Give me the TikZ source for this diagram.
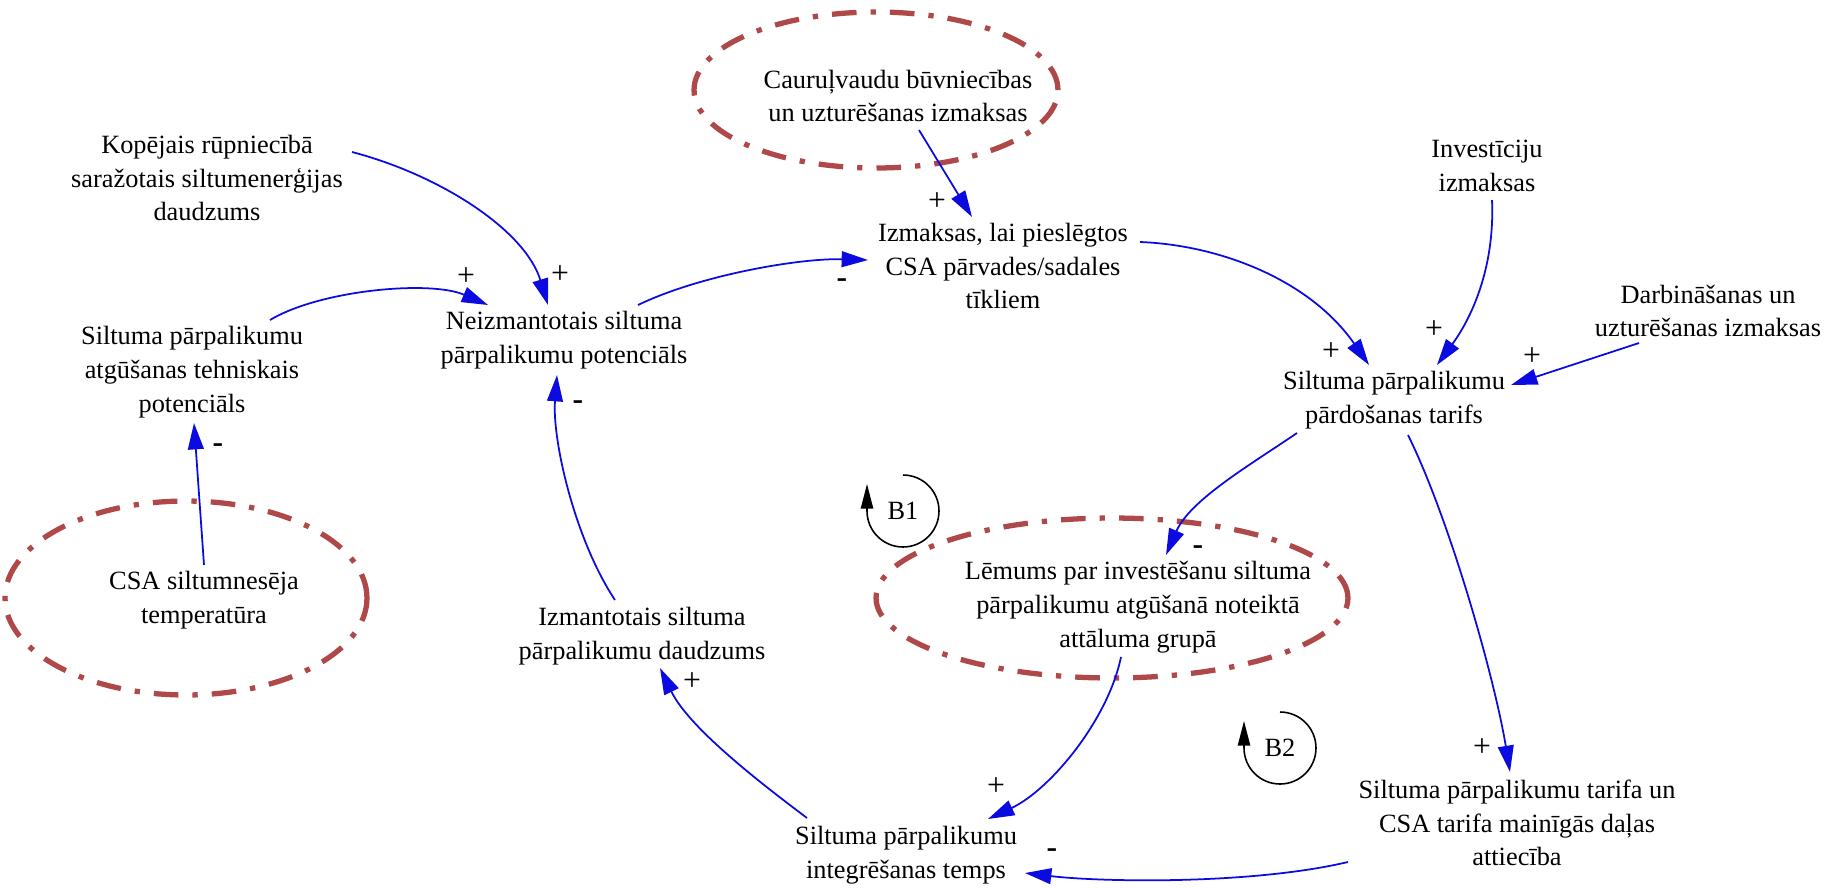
\documentclass[tikz,border=0pt]{standalone}
\usepackage{fontspec}
\setmainfont{Liberation Serif}
\usetikzlibrary{arrows.meta,calc}
\definecolor{ellred}{RGB}{175,72,72}
\definecolor{arrblue}{RGB}{10,10,225}
\begin{document}
\begin{tikzpicture}[x=0.02cm,y=-0.02cm,
  lbl/.style={font=\fontsize{15}{19.2}\selectfont, align=center, inner sep=0pt},
  sgn/.style={font=\fontsize{18}{22}\selectfont, inner sep=0pt},
  msgn/.style={font=\fontsize{18}{22}\selectfont\bfseries, inner sep=0pt},
  conn/.style={draw=arrblue, line width=1pt, -{Triangle[length=15pt,width=9pt]}},
  ell/.style={draw=ellred, line width=3pt, dash pattern=on 14pt off 8pt on 3pt off 8pt},
  loopst/.style={draw=black, line width=0.9pt, -{Triangle[length=14pt,width=7pt]}}
]
\useasboundingbox (0,0) rectangle (1843,887);

% highlight ellipses
\draw[ell] (876,90) ellipse [x radius=3.64cm, y radius=1.56cm];
\draw[ell] (186,598) ellipse [x radius=3.62cm, y radius=1.94cm];
\draw[ell] (1112,598) ellipse [x radius=4.72cm, y radius=1.6cm];

% variables
\node[lbl] (kop) at (207,178) {Kopējais rūpniecībā\\saražotais siltumenerģijas\\daudzums};
\node[lbl] (tech) at (192,372) {Siltuma pārpalikumu\\atgūšanas tehniskais\\potenciāls};
\node[lbl] (csa) at (204,600) {CSA siltumnesēja\\temperatūra};
\node[lbl] (neiz) at (564,340) {Neizmantotais siltuma\\pārpalikumu potenciāls};
\node[lbl] (caur) at (898,96) {Cauruļvaudu būvniecības\\un uzturēšanas izmaksas};
\node[lbl] (izm) at (1003,266) {Izmaksas, lai pieslēgtos\\CSA pārvades/sadales\\tīkliem};
\node[lbl] (inv) at (1487,166) {Investīciju\\izmaksas};
\node[lbl] (darb) at (1708,311) {Darbināšanas un\\uzturēšanas izmaksas};
\node[lbl] (tarifs) at (1394,400) {Siltuma pārpalikumu\\pārdošanas tarifs};
\node[lbl] (lem) at (1138,607) {Lēmums par investēšanu siltuma\\pārpalikumu atgūšanā noteiktā\\attāluma grupā};
\node[lbl] (izmant) at (642,636) {Izmantotais siltuma\\pārpalikumu daudzums};
\node[lbl] (integ) at (906,855) {Siltuma pārpalikumu\\integrēšanas temps};
\node[lbl] (attie) at (1517,823) {Siltuma pārpalikumu tarifa un\\CSA tarifa mainīgās daļas\\attiecība};

% loop markers
\node[lbl] (b1) at (903,511) {B1};
\node[lbl] (b2) at (1280,748) {B2};
\draw[loopst] ($(b1.center)+(0,0.72cm)$) arc[start angle=90,end angle=-180,radius=0.72cm] -- ++(0,0.54cm);
\draw[loopst] ($(b2.center)+(0,0.72cm)$) arc[start angle=90,end angle=-180,radius=0.72cm] -- ++(0,0.54cm);

% connectors
\draw[conn] ($(kop)+(145,-26)$) .. controls ($(kop)+(233,-3)$) and ($(neiz)+(-39,-110)$) .. ($(neiz)+(-16,-35)$);
\draw[conn] ($(tech)+(78,-52)$) .. controls ($(tech)+(128,-82)$) and ($(neiz)+(-134,-60)$) .. ($(neiz)+(-76,-35)$);
\draw[conn] ($(neiz)+(74,-35)$) .. controls ($(neiz)+(136,-65)$) and ($(izm)+(-203,-8)$) .. ($(izm)+(-135,-6)$);
\draw[conn] ($(caur)+(21,34)$) -- ($(izm)+(-31,-49)$);
\draw[conn] ($(izm)+(137,-24)$) .. controls ($(izm)+(217,-21)$) and ($(tarifs)+(-84,-120)$) .. ($(tarifs)+(-25,-35)$);
\draw[conn] ($(inv)+(5,34)$) .. controls ($(inv)+(8,104)$) and ($(tarifs)+(76,-80)$) .. ($(tarifs)+(43,-35)$);
\draw[conn] ($(darb)+(-69,32)$) -- ($(tarifs)+(117,-15)$);
\draw[conn] ($(tarifs)+(-97,33)$) .. controls ($(tarifs)+(-144,65)$) and ($(lem)+(52,-107)$) .. ($(lem)+(28,-52)$);
\draw[conn] ($(tarifs)+(14,35)$) .. controls ($(tarifs)+(56,120)$) and ($(attie)+(-22,-143)$) .. ($(attie)+(-7,-51)$);
\draw[conn] ($(lem)+(-17,50)$) .. controls ($(lem)+(-30,113)$) and ($(integ)+(144,-65)$) .. ($(integ)+(82,-36)$);
\draw[conn] ($(attie)+(-169,39)$) .. controls ($(attie)+(-267,62)$) and ($(integ)+(194,27)$) .. ($(integ)+(119,18)$);
\draw[conn] ($(integ)+(-99,-37)$) .. controls ($(integ)+(-136,-65)$) and ($(izmant)+(48,94)$) .. ($(izmant)+(18,32)$);
\draw[conn] ($(izmant)+(-27,-36)$) .. controls ($(izmant)+(-67,-96)$) and ($(neiz)+(-12,100)$) .. ($(neiz)+(-7,35)$);
\draw[conn] ($(csa)+(0,-35)$) -- ($(tech)+(2,51)$);

% polarity signs
\node[sgn] (p1) at (466,277) {+};
\node[sgn] (p2) at (560,275) {+};
\node[msgn] (m1) at (578,405) {-};
\node[msgn] (m2) at (842,283) {-};
\node[sgn] (p3) at (937,202) {+};
\node[sgn] (p4) at (1331,352) {+};
\node[sgn] (p5) at (1434,330) {+};
\node[sgn] (p6) at (1532,357) {+};
\node[msgn] (m3) at (1198,550) {-};
\node[sgn] (p7) at (1482,748) {+};
\node[sgn] (p8) at (996,787) {+};
\node[msgn] (m4) at (1052,853) {-};
\node[sgn] (p9) at (692,682) {+};
\node[msgn] (m5) at (218,448) {-};
\end{tikzpicture}
\end{document}
